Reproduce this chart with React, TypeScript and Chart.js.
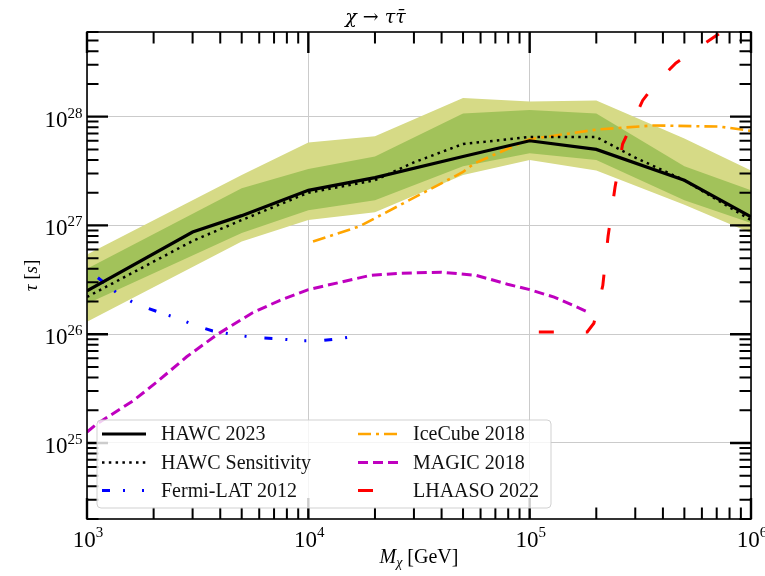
import React, { useEffect, useRef } from 'react';
import { Chart, registerables } from 'chart.js';

Chart.register(...registerables);

// ---------- data ----------
const bandMass = [1e3, 5e3, 1e4, 2e4, 5e4, 1e5, 2e5, 5e5, 1e6];
const outerUpper = [5.4e26, 2.9e27, 5.8e27, 6.6e27, 1.48e28, 1.38e28, 1.41e28, 6.3e27, 3.2e27];
const innerUpper = [4.0e26, 2.2e27, 3.3e27, 4.3e27, 1.07e28, 1.15e28, 1.07e28, 3.5e27, 2.1e27];
const innerLower = [1.9e26, 8.5e26, 1.38e27, 1.7e27, 3.5e27, 4.6e27, 4.0e27, 1.7e27, 1.05e27];
const outerLower = [1.3e26, 7.1e26, 1.12e27, 1.32e27, 2.9e27, 4.0e27, 3.2e27, 1.55e27, 8.5e26];

const hawcMass = [1e3, 3e3, 5e3, 1e4, 2e4, 5e4, 1e5, 2e5, 5e5, 1e6];
const hawcLimit = [2.5e26, 8.7e26, 1.23e27, 2.1e27, 2.75e27, 4.3e27, 6.0e27, 5.0e27, 2.6e27, 1.2e27];

const sensMass = [1e3, 3e3, 5e3, 1e4, 2e4, 3e4, 5e4, 1e5, 2e5, 3e5, 5e5, 1e6];
const sensLimit = [2.2e26, 7.2e26, 1.12e27, 2.0e27, 2.6e27, 3.8e27, 5.6e27, 6.5e27, 6.5e27, 4.2e27, 2.6e27, 1.12e27];

const fermiMass = [1120, 1400, 1660, 2100, 2570, 3090, 3700, 4800, 5750, 7250, 9100, 11200, 13800, 17400];
const fermiLimit = [3.3e26, 2.3e26, 1.9e26, 1.6e26, 1.4e26, 1.2e26, 1.07e26, 9.8e25, 9.3e25, 9.1e25, 8.7e25, 8.7e25, 9.1e25, 9.8e25];

const iceMass = [10500, 17000, 50000, 56000, 100000, 200000, 363000, 724000, 1000000];
const iceLimit = [7.1e26, 9.8e26, 3.1e27, 3.7e27, 6.2e27, 7.6e27, 8.3e27, 8.1e27, 7.4e27];

const magicMass = [1000, 1110, 1620, 2090, 2820, 3890, 5620, 7410, 10000, 19000, 25700, 39800, 57500, 79400, 100000, 129000, 186000];
const magicLimit = [1.26e25, 1.5e25, 2.45e25, 3.7e25, 6.2e25, 1.0e26, 1.58e26, 2.04e26, 2.57e26, 3.47e26, 3.63e26, 3.72e26, 3.47e26, 2.88e26, 2.57e26, 2.19e26, 1.58e26];

const lhaasoMass = [110000, 182000, 195000, 214000, 226000, 243000, 263000, 324000, 372000, 457000, 692000, 794000];
const lhaasoLimit = [1.05e26, 1.05e26, 1.26e26, 2.8e26, 7.9e26, 2.24e27, 5.6e27, 1.41e28, 2.04e28, 3.1e28, 5.5e28, 6.6e28];

const xTickExps = [3, 4, 5, 6];
const yTickExps = [25, 26, 27, 28];
const minorMultipliers = [2, 3, 4, 5, 6, 7, 8, 9];
const xMin = 1e3;
const xMax = 1e6;
const yMin = 2e24;
const yMax = 6e28;

const titleText = 'χ → ττ̄';
const legendCol1 = ['HAWC 2023', 'HAWC Sensitivity', 'Fermi-LAT 2012'];
const legendCol2 = ['IceCube 2018', 'MAGIC 2018', 'LHAASO 2022'];

const SERIF = '"Liberation Serif", "DejaVu Serif", serif';

const pts = (xs: number[], ys: number[]) => xs.map((x, i) => ({ x, y: ys[i] }));

function drawSegs(ctx: CanvasRenderingContext2D, segs: any[], x: number, baseline: number, align: 'center' | 'right') {
  const widths = segs.map((s) => {
    ctx.font = s.font;
    return ctx.measureText(s.text).width;
  });
  const total = widths.reduce((a, b) => a + b, 0);
  let cx = align === 'center' ? x - total / 2 : x - total;
  segs.forEach((s, i) => {
    ctx.font = s.font;
    ctx.fillText(s.text, cx, baseline + (s.dy || 0));
    cx += widths[i];
  });
}

const decorPlugin = {
  id: 'decor',
  afterDraw(chart: any) {
    const { ctx, chartArea: a, scales } = chart;
    const xs = scales.x;
    const ys = scales.y;
    ctx.save();
    ctx.strokeStyle = '#000';
    ctx.fillStyle = '#000';

    const majorLen = 21;
    const minorLen = 11.5;
    const xTick = (v: number, major: boolean) => {
      const p = xs.getPixelForValue(v);
      const len = major ? majorLen : minorLen;
      ctx.lineWidth = major ? 2.4 : 2;
      ctx.beginPath();
      ctx.moveTo(p, a.bottom);
      ctx.lineTo(p, a.bottom - len);
      ctx.moveTo(p, a.top);
      ctx.lineTo(p, a.top + len);
      ctx.stroke();
    };
    const yTick = (v: number, major: boolean) => {
      const p = ys.getPixelForValue(v);
      const len = major ? majorLen : minorLen;
      ctx.lineWidth = major ? 2.4 : 2;
      ctx.beginPath();
      ctx.moveTo(a.left, p);
      ctx.lineTo(a.left + len, p);
      ctx.moveTo(a.right, p);
      ctx.lineTo(a.right - len, p);
      ctx.stroke();
    };
    for (let d = 2; d <= 6; d++) {
      const base = Math.pow(10, d);
      if (base >= xMin && base <= xMax) xTick(base, true);
      minorMultipliers.forEach((k) => {
        const v = k * base;
        if (v > xMin && v < xMax) xTick(v, false);
      });
    }
    for (let d = 23; d <= 29; d++) {
      const base = Math.pow(10, d);
      if (base >= yMin && base <= yMax) yTick(base, true);
      minorMultipliers.forEach((k) => {
        const v = k * base;
        if (v >= yMin * 0.999 && v <= yMax * 1.001) yTick(v, false);
      });
    }

    // frame
    ctx.lineWidth = 1.6;
    ctx.strokeRect(a.left, a.top, a.right - a.left, a.bottom - a.top);

    // tick labels
    ctx.textBaseline = 'alphabetic';
    ctx.textAlign = 'left';
    xTickExps.forEach((e) => {
      const p = xs.getPixelForValue(Math.pow(10, e));
      drawSegs(ctx, [
        { text: '10', font: `23px ${SERIF}` },
        { text: String(e), font: `15px ${SERIF}`, dy: -10 },
      ], p + 1, a.bottom + 28, 'center');
    });
    yTickExps.forEach((e) => {
      const p = ys.getPixelForValue(Math.pow(10, e));
      drawSegs(ctx, [
        { text: '10', font: `23px ${SERIF}` },
        { text: String(e), font: `15px ${SERIF}`, dy: -9 },
      ], a.left - 4.5, p + 10, 'right');
    });

    // axis titles
    const cxp = (a.left + a.right) / 2;
    drawSegs(ctx, [
      { text: 'M', font: `italic 20px ${SERIF}` },
      { text: 'χ', font: `italic 14px ${SERIF}`, dy: 4 },
      { text: ' [GeV]', font: `20px ${SERIF}` },
    ], cxp, 563, 'center');
    ctx.save();
    ctx.translate(37, (a.top + a.bottom) / 2);
    ctx.rotate(-Math.PI / 2);
    drawSegs(ctx, [
      { text: 'τ', font: `italic 19px ${SERIF}` },
      { text: ' [', font: `19px ${SERIF}` },
      { text: 's', font: `italic 19px ${SERIF}` },
      { text: ']', font: `19px ${SERIF}` },
    ], 0, 0, 'center');
    ctx.restore();

    // legend
    const bx = a.left + 10;
    const by = 420;
    const bw = 454;
    const bh = 88;
    ctx.beginPath();
    ctx.roundRect(bx, by, bw, bh, 4);
    ctx.fillStyle = 'rgba(255,255,255,0.8)';
    ctx.fill();
    ctx.lineWidth = 1;
    ctx.strokeStyle = 'rgba(204,204,204,0.9)';
    ctx.stroke();

    const dsByLabel: any = {};
    chart.data.datasets.forEach((d: any) => { dsByLabel[d.label] = d; });
    const rows = [434, 462.5, 490.5];
    const drawEntry = (label: string, hx: number, tx: number, y: number) => {
      const d = dsByLabel[label];
      ctx.save();
      ctx.strokeStyle = d.borderColor;
      ctx.lineWidth = d.borderWidth;
      ctx.setLineDash(d.borderDash || []);
      ctx.beginPath();
      ctx.moveTo(hx, y);
      ctx.lineTo(hx + 44, y);
      ctx.stroke();
      ctx.restore();
      ctx.fillStyle = '#111';
      ctx.font = `20px ${SERIF}`;
      ctx.textBaseline = 'middle';
      ctx.fillText(label, tx, y + 1);
    };
    legendCol1.forEach((l, i) => drawEntry(l, bx + 5, bx + 64, rows[i]));
    legendCol2.forEach((l, i) => drawEntry(l, bx + 261, bx + 316, rows[i]));

    ctx.restore();
  },
};

export default function App() {
  const ref = useRef<HTMLCanvasElement>(null);

  useEffect(() => {
    if (!ref.current) return;
    const lineBase = { pointRadius: 0, pointHoverRadius: 0, tension: 0, fill: false };
    const chart = new Chart(ref.current, {
      type: 'line',
      data: {
        datasets: [
          {
            ...lineBase,
            label: 'outer upper',
            data: pts(bandMass, outerUpper),
            borderColor: 'transparent',
            borderWidth: 0,
            backgroundColor: 'rgb(214,218,134)',
            fill: '+1',
            order: 30,
          },
          {
            ...lineBase,
            label: 'outer lower',
            data: pts(bandMass, outerLower),
            borderColor: 'transparent',
            borderWidth: 0,
            order: 30,
          },
          {
            ...lineBase,
            label: 'inner upper',
            data: pts(bandMass, innerUpper),
            borderColor: 'transparent',
            borderWidth: 0,
            backgroundColor: 'rgb(162,194,90)',
            fill: '+1',
            order: 20,
          },
          {
            ...lineBase,
            label: 'inner lower',
            data: pts(bandMass, innerLower),
            borderColor: 'transparent',
            borderWidth: 0,
            order: 20,
          },
          {
            ...lineBase,
            label: 'LHAASO 2022',
            data: pts(lhaasoMass, lhaasoLimit),
            borderColor: '#ff0000',
            borderWidth: 3,
            borderDash: [15, 32],
            order: 6,
          },
          {
            ...lineBase,
            label: 'MAGIC 2018',
            data: pts(magicMass, magicLimit),
            borderColor: '#bf00bf',
            borderWidth: 3,
            borderDash: [10, 5],
            order: 5,
          },
          {
            ...lineBase,
            label: 'IceCube 2018',
            data: pts(iceMass, iceLimit),
            borderColor: '#ffa500',
            borderWidth: 2.6,
            borderDash: [13, 5, 3, 5],
            order: 4,
          },
          {
            ...lineBase,
            label: 'Fermi-LAT 2012',
            data: pts(fermiMass, fermiLimit),
            borderColor: '#0000ff',
            borderWidth: 3,
            borderDash: [8, 13, 2, 17, 2, 18],
            order: 3,
          },
          {
            ...lineBase,
            label: 'HAWC Sensitivity',
            data: pts(sensMass, sensLimit),
            borderColor: '#000000',
            borderWidth: 2.5,
            borderDash: [2.5, 4.3],
            order: 2,
          },
          {
            ...lineBase,
            label: 'HAWC 2023',
            data: pts(hawcMass, hawcLimit),
            borderColor: '#000000',
            borderWidth: 3.2,
            order: 1,
          },
        ],
      },
      options: {
        animation: false,
        responsive: true,
        maintainAspectRatio: false,
        events: [],
        layout: { padding: { left: 0, right: 14, top: 0, bottom: 0 }, autoPadding: false },
        plugins: {
          legend: { display: false },
          tooltip: { enabled: false },
          title: {
            display: true,
            text: titleText,
            color: '#000',
            font: { family: '"DejaVu Serif", serif', size: 19, style: 'italic', weight: 'normal', lineHeight: 1.2 },
            padding: { top: 6.5, bottom: 2.7 },
          },
        },
        scales: {
          x: {
            type: 'logarithmic',
            min: xMin,
            max: xMax,
            ticks: { display: false, autoSkip: false },
            grid: { color: '#cbcbcb', lineWidth: 1, drawTicks: false },
            border: { display: false },
            afterBuildTicks: (s: any) => {
              s.ticks = xTickExps.map((e) => ({ value: Math.pow(10, e) }));
            },
            afterFit: (s: any) => {
              s.height = 57;
            },
          },
          y: {
            type: 'logarithmic',
            min: yMin,
            max: yMax,
            ticks: { display: false, autoSkip: false },
            grid: { color: '#cbcbcb', lineWidth: 1, drawTicks: false },
            border: { display: false },
            afterBuildTicks: (s: any) => {
              s.ticks = yTickExps.map((e) => ({ value: Math.pow(10, e) }));
            },
            afterFit: (s: any) => {
              s.width = 87;
            },
          },
        },
      },
      plugins: [decorPlugin],
    } as any);
    return () => chart.destroy();
  }, []);

  return (
    <div style={{ position: 'fixed', left: 0, top: 0, width: 765, height: 576, background: '#fff' }}>
      <canvas ref={ref} />
    </div>
  );
}
